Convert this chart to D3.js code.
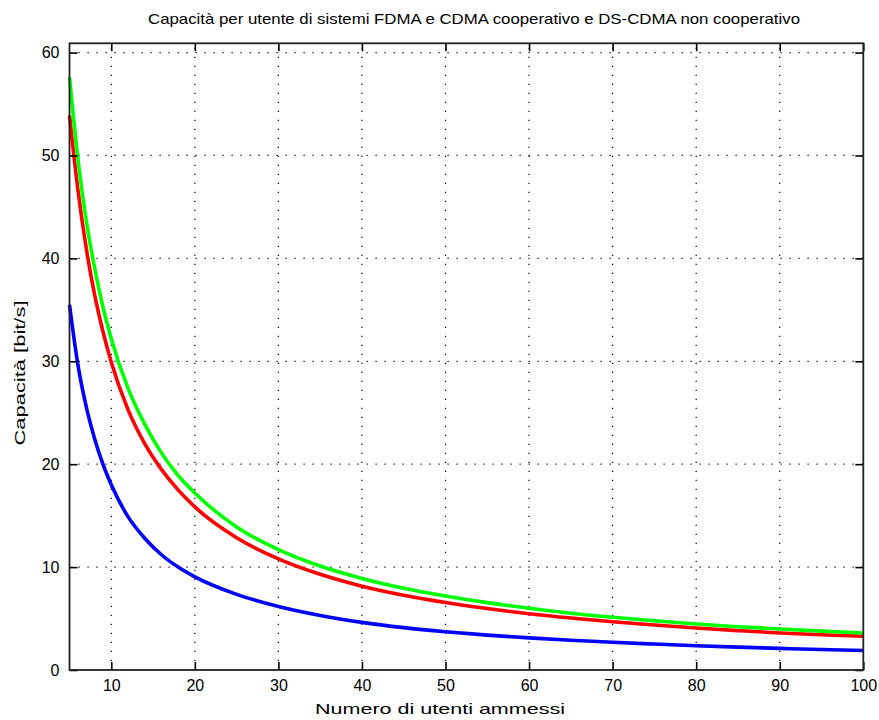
<!DOCTYPE html>
<html>
<head>
<meta charset="utf-8">
<script src="https://cdn.jsdelivr.net/npm/d3@7"></script>
<style>
  body { margin: 0; background: #fff; }
  text { font-family: "Liberation Sans Narrow", "Liberation Sans", Arial, sans-serif; fill: #000; }
</style>
</head>
<body>
<svg width="879" height="720"></svg>
<script>
// numero di utenti (asse x)
var utenti = [5, 6, 7, 8, 9, 10, 12, 14, 16, 18, 20, 25, 30, 35, 40, 45, 50, 55, 60, 65, 70, 75, 80, 85, 90, 95, 100];

// capacità per utente [bit/s]
var capVerde = [57.6, 49.7, 43.7, 39.1, 35.3, 32.2, 27.4, 23.9, 21.1, 18.9, 17.2, 13.9, 11.7, 10.1, 8.9, 7.95, 7.2, 6.55, 6.0, 5.52, 5.12, 4.78, 4.47, 4.21, 3.98, 3.78, 3.6];
var capRosso = [53.9, 46.7, 41.0, 36.5, 32.9, 29.9, 25.3, 22.0, 19.5, 17.5, 15.85, 12.85, 10.8, 9.3, 8.15, 7.27, 6.56, 5.97, 5.47, 5.05, 4.69, 4.37, 4.08, 3.83, 3.6, 3.42, 3.28];
var capBlu = [35.5, 29.7, 25.6, 22.5, 20.0, 18.0, 14.9, 12.8, 11.2, 10.0, 9.05, 7.35, 6.17, 5.3, 4.63, 4.12, 3.72, 3.39, 3.12, 2.89, 2.69, 2.52, 2.36, 2.22, 2.1, 1.99, 1.89];

var xTicks = [10, 20, 30, 40, 50, 60, 70, 80, 90, 100];
var yTicks = [0, 10, 20, 30, 40, 50, 60];

var svg = d3.select("svg");
var pLeft = 69.5, pRight = 863.3, pTop = 43.3, pBottom = 670;

var x = d3.scaleLinear().domain([5, 100]).range([pLeft, pRight]);
var y = d3.scaleLinear().domain([0, 60.9]).range([pBottom, pTop]);

// griglia punteggiata
var grid = svg.append("g")
    .attr("stroke", "#000")
    .attr("stroke-width", 1.2)
    .attr("stroke-dasharray", "1.2,7.8");

grid.selectAll("line.gx")
    .data(xTicks.filter(function(d) { return d < 100; }))
    .enter().append("line")
    .attr("x1", function(d) { return x(d); })
    .attr("x2", function(d) { return x(d); })
    .attr("y1", pBottom)
    .attr("y2", pTop);

grid.selectAll("line.gy")
    .data(yTicks.filter(function(d) { return d > 0; }))
    .enter().append("line")
    .attr("y1", function(d) { return y(d); })
    .attr("y2", function(d) { return y(d); })
    .attr("x1", pLeft)
    .attr("x2", pRight);

// curve
var line = d3.line()
    .x(function(d) { return x(d[0]); })
    .y(function(d) { return y(d[1]); })
    .curve(d3.curveMonotoneX);

var serie = [
  { valori: capBlu, colore: "#0000ff" },
  { valori: capRosso, colore: "#ff0000" },
  { valori: capVerde, colore: "#00ff00" }
];

svg.append("g").selectAll("path")
    .data(serie)
    .enter().append("path")
    .attr("fill", "none")
    .attr("stroke", function(d) { return d.colore; })
    .attr("stroke-width", 3.6)
    .attr("d", function(d) { return line(d3.zip(utenti, d.valori)); });

// assi (tick interni, come MATLAB)
var tk = 8;
svg.append("g")
    .attr("transform", "translate(0," + pBottom + ")")
    .call(d3.axisBottom(x).tickValues(xTicks).tickSizeInner(-tk).tickSizeOuter(0).tickPadding(10))
    .call(function(g) { g.select(".domain").remove(); });

svg.append("g")
    .attr("transform", "translate(0," + pTop + ")")
    .call(d3.axisTop(x).tickValues(xTicks).tickSizeInner(-tk).tickSizeOuter(0).tickFormat(""))
    .call(function(g) { g.select(".domain").remove(); });

svg.append("g")
    .attr("transform", "translate(" + pLeft + ",0)")
    .call(d3.axisLeft(y).tickValues(yTicks).tickSizeInner(-tk).tickSizeOuter(0).tickPadding(10))
    .call(function(g) { g.select(".domain").remove(); });

svg.append("g")
    .attr("transform", "translate(" + pRight + ",0)")
    .call(d3.axisRight(y).tickValues(yTicks).tickSizeInner(-tk).tickSizeOuter(0).tickFormat(""))
    .call(function(g) { g.select(".domain").remove(); });

svg.selectAll(".tick line").attr("stroke", "#000").attr("stroke-width", 1.6);
svg.selectAll(".tick text").style("font-size", "16px").attr("fill", "#000");

// cornice
svg.append("rect")
    .attr("x", pLeft).attr("y", pTop)
    .attr("width", pRight - pLeft).attr("height", pBottom - pTop)
    .attr("fill", "none")
    .attr("stroke", "#222")
    .attr("stroke-width", 1.8);

// testi
svg.append("text")
    .attr("x", 474).attr("y", 24)
    .attr("text-anchor", "middle")
    .attr("textLength", 652)
    .attr("lengthAdjust", "spacingAndGlyphs")
    .style("font-size", "15px")
    .text("Capacità per utente di sistemi FDMA e CDMA cooperativo e DS-CDMA non cooperativo");

svg.append("text")
    .attr("x", 440).attr("y", 714)
    .attr("text-anchor", "middle")
    .attr("textLength", 250)
    .attr("lengthAdjust", "spacingAndGlyphs")
    .style("font-size", "15px")
    .text("Numero di utenti ammessi");

svg.append("text")
    .attr("transform", "translate(25,373) rotate(-90)")
    .attr("text-anchor", "middle")
    .attr("textLength", 145)
    .attr("lengthAdjust", "spacingAndGlyphs")
    .style("font-size", "14px")
    .text("Capacità  [bit/s]");
</script>
</body>
</html>
